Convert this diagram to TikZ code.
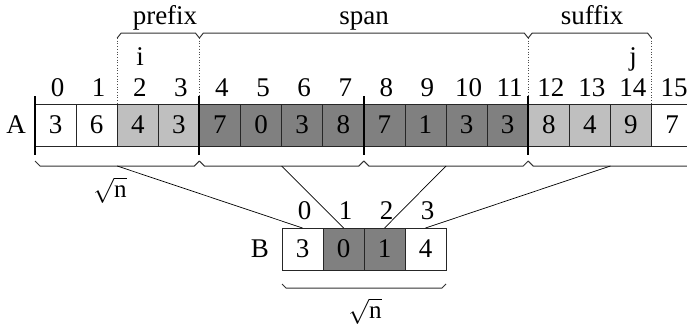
\documentclass[tikz,border=0pt]{standalone}
\usepackage{fontspec}
\setmainfont{Liberation Serif}
\begin{document}
\begin{tikzpicture}[x=1pt,y=-1pt,
  font=\fontsize{27}{32}\selectfont,
  cell/.style={draw=black!85,line width=0.8pt,minimum width=41.1pt,minimum height=42pt,inner sep=0pt,anchor=north west,outer sep=0pt},
  lightcell/.style={cell,fill=black!25},
  darkcell/.style={cell,fill=black!50},
  lbl/.style={inner sep=0pt,anchor=base},
  clbl/.style={inner sep=0pt,anchor=center},
  sqlbl/.style={inner sep=0pt,anchor=center,font=\fontsize{25}{30}\selectfont},
  thickbar/.style={line width=2pt},
  dotline/.style={dotted,line width=0.7pt,black!70},
  bracket/.style={line width=1pt,black!80},
  conn/.style={line width=0.7pt}]
\useasboundingbox (0,0) rectangle (687,327);
% array A
\def\cw{41.1}
\foreach \i/\v/\s in {0/3/cell,1/6/cell,2/4/lightcell,3/3/lightcell,4/7/darkcell,5/0/darkcell,6/3/darkcell,7/8/darkcell,8/7/darkcell,9/1/darkcell,10/3/darkcell,11/3/darkcell,12/8/lightcell,13/4/lightcell,14/9/lightcell,15/7/cell}{
  \node[\s] (a\i) at ({35+\cw*\i},104) {\v};
  \node[lbl] (ai\i) at ({35+\cw*\i+\cw/2+2},96) {\i};
}
\node[clbl] (Alab) at (16,125) {A};
\node[lbl] (ilab) at (140,65) {i};
\node[lbl] (jlab) at (633,65) {j};
% thick separators
\foreach \k in {0,4,8,12}{
  \draw[thickbar] ({35+\cw*\k},96) -- ({35+\cw*\k},155);
}
% dotted lines
\draw[dotline] ({35+\cw*2},38) -- ({35+\cw*2},104);
\draw[dotline] ({35+\cw*4},38) -- ({35+\cw*4},96);
\draw[dotline] ({35+\cw*12},38) -- ({35+\cw*12},96);
\draw[dotline] ({35+\cw*15},38) -- ({35+\cw*15},104);
% top brackets
\foreach \p/\q in {2/4,4/12,12/15}{
  \draw[bracket] ({35+\cw*\p},38) -- ({35+\cw*\p+4},33) -- ({35+\cw*\q-4},33) -- ({35+\cw*\q},38);
}
\node[lbl] (prefix) at (165,24) {prefix};
\node[lbl] (span) at (364,24) {span};
\node[lbl] (suffix) at (592,24) {suffix};
% bottom brackets
\foreach \k in {0,1,2,3}{
  \draw[bracket] ({35+\cw*4*\k},161) -- ({35+\cw*4*\k+5},166) -- ({35+\cw*4*(\k+1)-5},166) -- ({35+\cw*4*(\k+1)},161);
  \coordinate (m\k) at ({35+\cw*4*\k+\cw*2},166);
}
\node[sqlbl] (sq1) at (110,190) {$\sqrt{\hbox{n}}$};
% array B
\foreach \i/\v/\s in {0/3/cell,1/0/darkcell,2/1/darkcell,3/4/cell}{
  \node[\s] (b\i) at ({282+41*\i},228) {\v};
  \node[lbl] (bi\i) at ({282+41*\i+20.5+2},219) {\i};
}
\node[clbl] (Blab) at (260,249) {B};
\draw[bracket] (282,284) -- (286,288) -- (442,288) -- (446,284);
\node[sqlbl] (sq2) at (365,311) {$\sqrt{\hbox{n}}$};
% connectors
\foreach \k in {0,1,2,3}{
  \draw[conn] (m\k) -- (b\k.north);
}
\end{tikzpicture}
\end{document}
